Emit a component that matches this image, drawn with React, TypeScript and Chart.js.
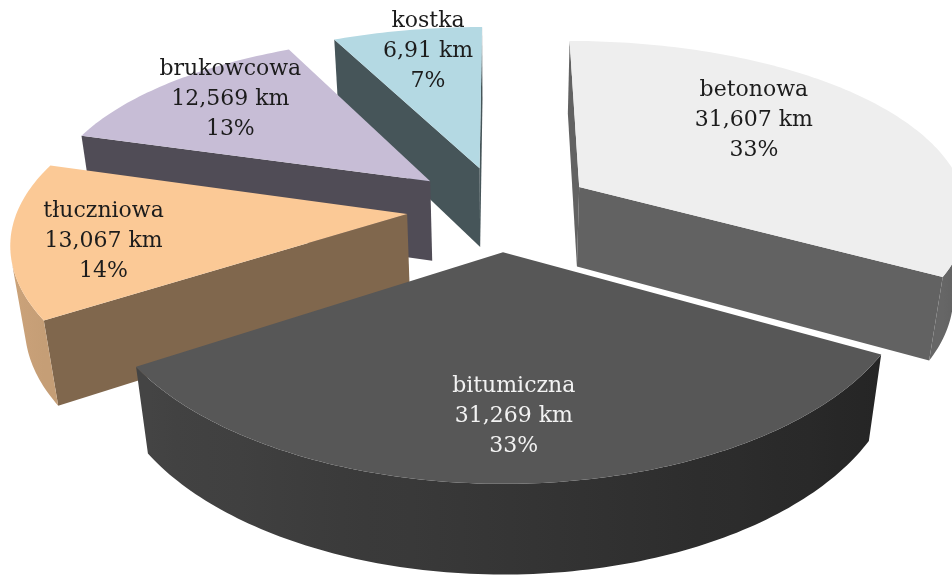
import React, { useEffect, useRef } from "react";
import { Chart, registerables } from "chart.js";

Chart.register(...registerables);

const categories = ["betonowa", "bitumiczna", "tłuczniowa", "brukowcowa", "kostka"];
const lengthsKm = [31.607, 31.269, 13.067, 12.569, 6.91];
const lengthLabels = ["31,607 km", "31,269 km", "13,067 km", "12,569 km", "6,91 km"];
const percentLabels = ["33%", "33%", "14%", "13%", "7%"];
const topColors = ["#EEEEEE", "#575757", "#FBC996", "#C7BDD6", "#B4D9E3"];
const textColors = ["#1c1c1c", "#f2f2f2", "#1c1c1c", "#1c1c1c", "#1c1c1c"];
const cutShade = [0.41, 0.41, 0.51, 0.4, 0.39];
const labelRadius = [0.65, 0.745, 0.77, 0.785, 0.825];
const labelTurnDeg = [-10, 0, -3, 2.5, 2];

const view = { cx: 500, cy: 208, f: 389, g: 176.7, kx: 0.14, ky: 0.166, m: 0.03, depth: 83, explode: 0.24 };

function project(u: number, v: number, z: number) {
  const sx = 1 - view.kx * v + view.m * z;
  const sy = 1 - view.ky * v + view.m * z;
  return { x: view.cx + (view.f * u) / sx, y: view.cy + (view.g * v + view.depth * z) / sy };
}

function shade(hex: string, factor: number) {
  const n = parseInt(hex.slice(1), 16);
  const c = [(n >> 16) & 255, (n >> 8) & 255, n & 255].map((x) => Math.round(x * factor));
  return `rgb(${c[0]},${c[1]},${c[2]})`;
}

function fillPoly(ctx: CanvasRenderingContext2D, pts: { x: number; y: number }[], fill: any) {
  ctx.fillStyle = fill;
  ctx.beginPath();
  pts.forEach((c, n) => (n ? ctx.lineTo(c.x, c.y) : ctx.moveTo(c.x, c.y)));
  ctx.closePath();
  ctx.fill();
}

function faceArea(quad: { x: number; y: number }[]) {
  let area = 0;
  quad.forEach((c, n) => {
    const d = quad[(n + 1) % quad.length];
    area += c.x * d.y - d.x * c.y;
  });
  return area;
}

const pie3d = {
  id: "pie3d",
  beforeDatasetsDraw(chart: any) {
    const ctx: CanvasRenderingContext2D = chart.ctx;
    const arcs = chart.getDatasetMeta(0).data;
    const slices = arcs.map((el: any, i: number) => {
      const { startAngle, endAngle } = el.getProps(["startAngle", "endAngle"], true);
      const mid = (startAngle + endAngle) / 2;
      return {
        i,
        startAngle,
        endAngle,
        mid,
        color: el.options.backgroundColor as string,
        ox: view.explode * Math.cos(mid),
        oy: view.explode * Math.sin(mid),
      };
    });
    const ordered = [...slices].sort((a: any, b: any) => a.oy - b.oy);
    ctx.save();
    for (const s of ordered) {
      const steps = Math.max(4, Math.ceil(((s.endAngle - s.startAngle) * 180) / Math.PI));
      const apex = { u: s.ox, v: s.oy };
      const rim: { u: number; v: number; a: number }[] = [];
      for (let j = 0; j <= steps; j++) {
        const a = s.startAngle + ((s.endAngle - s.startAngle) * j) / steps;
        rim.push({ u: s.ox + Math.cos(a), v: s.oy + Math.sin(a), a });
      }
      // straight cut faces
      for (const [p, q] of [
        [apex, rim[0]],
        [rim[rim.length - 1], apex],
      ]) {
        const quad = [project(p.u, p.v, 0), project(q.u, q.v, 0), project(q.u, q.v, 1), project(p.u, p.v, 1)];
        if (faceArea(quad) < 0) fillPoly(ctx, quad, shade(s.color, cutShade[s.i]));
      }
      // outer wall, one polygon with a horizontal gradient for its visible rim
      const visible: typeof rim = [];
      for (let j = 0; j < rim.length - 1; j++) {
        const p = rim[j];
        const q = rim[j + 1];
        const quad = [project(p.u, p.v, 0), project(q.u, q.v, 0), project(q.u, q.v, 1), project(p.u, p.v, 1)];
        if (faceArea(quad) < 0) {
          if (!visible.length) visible.push(p);
          visible.push(q);
        }
      }
      if (visible.length > 1) {
        const tops = visible.map((r) => project(r.u, r.v, 0));
        const bottoms = visible.map((r) => project(r.u, r.v, 1)).reverse();
        const x0 = tops[0].x;
        const x1 = tops[tops.length - 1].x;
        const grad = ctx.createLinearGradient(x0, 0, x1, 0);
        const last = visible.length - 1;
        visible.forEach((r, n) => {
          const t = Math.min(1, Math.max(0, (tops[n].x - x0) / (x1 - x0)));
          if (n === 0 || n === last || n % 6 === 0) grad.addColorStop(t, shade(s.color, 0.61 - 0.21 * Math.cos(r.a)));
        });
        fillPoly(ctx, [...tops, ...bottoms], grad);
      }
      // top face
      fillPoly(ctx, [project(apex.u, apex.v, 0), ...rim.map((r) => project(r.u, r.v, 0))], s.color);
    }
    ctx.font = '22px "DejaVu Serif"';
    ctx.textAlign = "center";
    ctx.textBaseline = "middle";
    for (const s of slices) {
      const a = s.mid + (labelTurnDeg[s.i] * Math.PI) / 180;
      const r = labelRadius[s.i];
      const c = project(s.ox + r * Math.cos(a), s.oy + r * Math.sin(a), 0);
      ctx.fillStyle = textColors[s.i];
      ctx.fillText(categories[s.i], c.x, c.y - 30);
      ctx.fillText(lengthLabels[s.i], c.x, c.y);
      ctx.fillText(percentLabels[s.i], c.x, c.y + 30);
    }
    ctx.restore();
    return false;
  },
};

export default function App() {
  const ref = useRef<HTMLCanvasElement>(null);
  useEffect(() => {
    document.body.style.margin = "0";
    const chart = new Chart(ref.current as HTMLCanvasElement, {
      type: "pie",
      data: {
        labels: categories,
        datasets: [{ data: lengthsKm, backgroundColor: topColors, borderWidth: 0 }],
      },
      options: {
        animation: false,
        responsive: false,
        plugins: { legend: { display: false }, tooltip: { enabled: false } },
      },
      plugins: [pie3d],
    } as any);
    return () => chart.destroy();
  }, []);
  return <canvas ref={ref} width={952} height={575} style={{ display: "block" }} />;
}
